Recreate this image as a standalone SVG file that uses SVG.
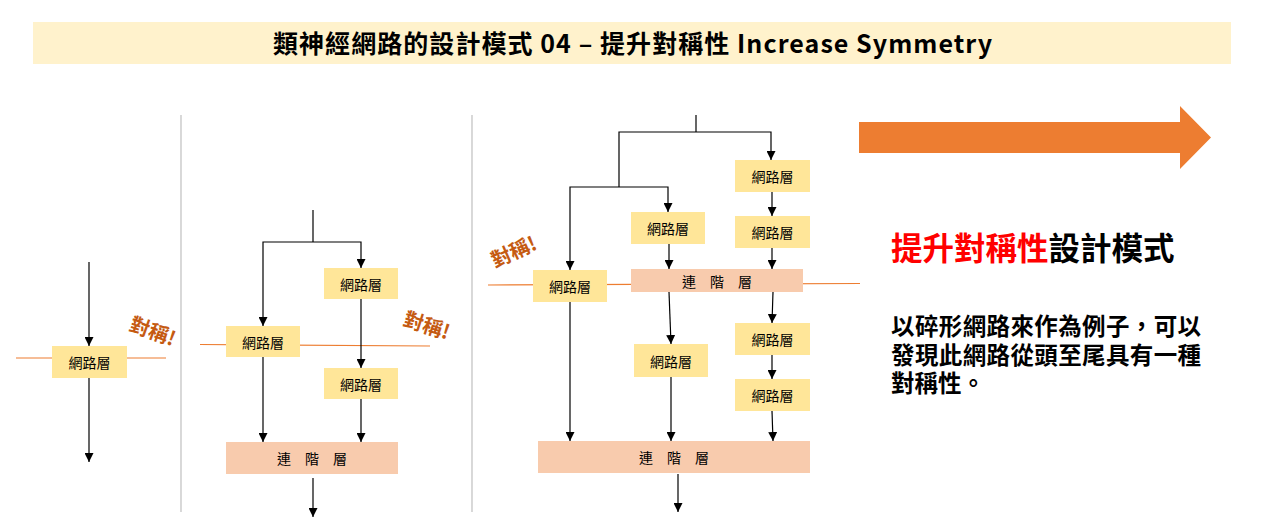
<svg xmlns="http://www.w3.org/2000/svg" width="1280" height="531" viewBox="0 0 1280 531">
  <style>
    .cjk { font-family: "Noto Sans CJK TC", "Noto Sans CJK SC", sans-serif; }
    .layer rect { fill: #FFE699; }
    .concat rect { fill: #F8CBAD; }
    .lbl { font-family: "Noto Sans CJK TC", sans-serif; font-size: 14px; fill: #000; text-anchor: middle; dominant-baseline: central; }
    .edge { stroke: #000; stroke-width: 1.2; fill: none; }
    .arrow { marker-end: url(#tip); }
    .sym { stroke: #ED7D31; stroke-width: 1.2; fill: none; }
    .sep { stroke: #BFBFBF; stroke-width: 1.2; }
    .mark { font-family: "Noto Sans CJK TC", sans-serif; font-size: 20px; font-weight: bold; fill: #C55A11; }
  </style>
  <defs>
    <marker id="tip" viewBox="0 0 10 10" refX="10" refY="5" markerWidth="9" markerHeight="9" markerUnits="userSpaceOnUse" orient="auto">
      <path d="M0,0 L10,5 L0,10 z" fill="#000"/>
    </marker>
  </defs>

  <rect width="1280" height="531" fill="#fff"/>

  <!-- title banner -->
  <g id="title">
    <rect x="33" y="22" width="1198" height="42" fill="#FFF2CC"/>
    <text x="273" y="53" class="cjk" font-size="25" font-weight="bold" fill="#000" textLength="719" lengthAdjust="spacing">類神經網路的設計模式 04 – 提升對稱性 Increase Symmetry</text>
  </g>

  <!-- panel separators -->
  <line class="sep" x1="181" y1="115" x2="181" y2="512"/>
  <line class="sep" x1="472" y1="115" x2="472" y2="512"/>

  <!-- big arrow -->
  <g id="big-arrow">
    <path d="M859,122 L1180,122 L1180,106 L1211,137.5 L1180,169 L1180,153 L859,153 z" fill="#ED7D31"/>
  </g>

  <!-- symmetry axes -->
  <g id="axes">
    <line class="sym" x1="16" y1="358" x2="166" y2="358"/>
    <line class="sym" x1="200" y1="344.5" x2="430" y2="346"/>
    <line class="sym" x1="488" y1="285" x2="860" y2="283.5"/>
    <text class="mark" transform="translate(128,330) rotate(20)">對稱!</text>
    <text class="mark" transform="translate(402,325) rotate(18)">對稱!</text>
    <text class="mark" transform="translate(495,268) rotate(-24)">對稱!</text>
  </g>

  <!-- connectors -->
  <g id="connectors">
    <!-- panel 1 -->
    <line class="edge arrow" x1="89" y1="262" x2="89" y2="346"/>
    <line class="edge arrow" x1="89" y1="378" x2="89" y2="462"/>
    <!-- panel 2 -->
    <line class="edge" x1="313" y1="210" x2="313" y2="242"/>
    <polyline class="edge arrow" points="313,242 263,242 263,326"/>
    <polyline class="edge arrow" points="313,242 361,242 361,268"/>
    <line class="edge arrow" x1="361" y1="299" x2="361" y2="368"/>
    <line class="edge arrow" x1="263" y1="357" x2="263" y2="442"/>
    <line class="edge arrow" x1="361" y1="399" x2="361" y2="442"/>
    <line class="edge arrow" x1="313" y1="478" x2="313" y2="517"/>
    <!-- panel 3 -->
    <line class="edge" x1="696" y1="115" x2="696" y2="132"/>
    <polyline class="edge" points="696,132 619,132 619,187"/>
    <polyline class="edge arrow" points="696,132 771,132 771,160"/>
    <polyline class="edge arrow" points="619,187 570,187 570,270"/>
    <polyline class="edge arrow" points="619,187 668,187 668,212"/>
    <line class="edge arrow" x1="772" y1="192" x2="772" y2="216"/>
    <line class="edge arrow" x1="772" y1="248" x2="772" y2="269"/>
    <line class="edge arrow" x1="669" y1="244" x2="669" y2="269"/>
    <line class="edge arrow" x1="669" y1="292" x2="671" y2="344"/>
    <line class="edge arrow" x1="773" y1="292" x2="772" y2="323"/>
    <line class="edge arrow" x1="772" y1="355" x2="772" y2="379"/>
    <line class="edge arrow" x1="772" y1="411" x2="773" y2="441"/>
    <line class="edge arrow" x1="570" y1="302" x2="570" y2="441"/>
    <line class="edge arrow" x1="671" y1="377" x2="671" y2="441"/>
    <line class="edge arrow" x1="678" y1="474" x2="678" y2="512"/>
  </g>

  <!-- panel 1 nodes -->
  <g id="p1-layer" class="layer"><rect x="52" y="346" width="75" height="32"/><text class="lbl" x="89.5" y="362">網路層</text></g>

  <!-- panel 2 nodes -->
  <g id="p2-layer-a" class="layer"><rect x="324" y="268" width="74" height="31"/><text class="lbl" x="361" y="284">網路層</text></g>
  <g id="p2-layer-b" class="layer"><rect x="226" y="326" width="74" height="31"/><text class="lbl" x="263" y="342">網路層</text></g>
  <g id="p2-layer-c" class="layer"><rect x="324" y="368" width="74" height="31"/><text class="lbl" x="361" y="384">網路層</text></g>
  <g id="p2-concat" class="concat"><rect x="226" y="442" width="172" height="32"/><text class="lbl" x="312" y="458" font-size="13">連　階　層</text></g>

  <!-- panel 3 nodes -->
  <g id="p3-layer-r1" class="layer"><rect x="735" y="160" width="75" height="32"/><text class="lbl" x="772.5" y="176">網路層</text></g>
  <g id="p3-layer-r2" class="layer"><rect x="735" y="216" width="75" height="32"/><text class="lbl" x="772.5" y="232">網路層</text></g>
  <g id="p3-layer-m1" class="layer"><rect x="631" y="212" width="74" height="32"/><text class="lbl" x="668" y="228">網路層</text></g>
  <g id="p3-layer-l" class="layer"><rect x="533" y="270" width="74" height="32"/><text class="lbl" x="570" y="286">網路層</text></g>
  <g id="p3-concat-mid" class="concat"><rect x="631" y="269" width="172" height="23"/><text class="lbl" x="717" y="280.5" font-size="13">連　階　層</text></g>
  <g id="p3-layer-m2" class="layer"><rect x="634" y="344" width="74" height="33"/><text class="lbl" x="671" y="360.5">網路層</text></g>
  <g id="p3-layer-r3" class="layer"><rect x="735" y="323" width="75" height="32"/><text class="lbl" x="772.5" y="339">網路層</text></g>
  <g id="p3-layer-r4" class="layer"><rect x="735" y="379" width="75" height="32"/><text class="lbl" x="772.5" y="395">網路層</text></g>
  <g id="p3-concat" class="concat"><rect x="538" y="441" width="272" height="32"/><text class="lbl" x="674" y="457" font-size="13">連　階　層</text></g>

  <!-- description -->
  <g id="description" class="cjk">
    <text x="891" y="260" font-size="31.5" font-weight="bold"><tspan fill="#FF0000">提升對稱性</tspan><tspan fill="#000">設計模式</tspan></text>
    <g font-size="23.5" font-weight="bold" fill="#000">
      <text x="891" y="335" textLength="310" lengthAdjust="spacing">以碎形網路來作為例子，可以</text>
      <text x="891" y="364" textLength="310" lengthAdjust="spacing">發現此網路從頭至尾具有一種</text>
      <text x="891" y="392">對稱性。</text>
    </g>
  </g>
</svg>
